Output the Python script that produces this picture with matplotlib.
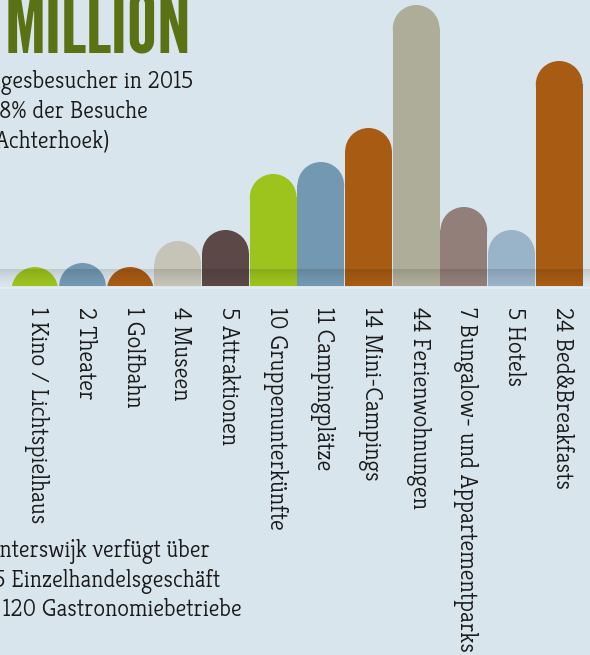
import matplotlib
matplotlib.use("Agg")
import matplotlib.pyplot as plt
import numpy as np
from matplotlib import font_manager as fm
from matplotlib.patches import Ellipse, Rectangle

kategorien = ["1 Kino / Lichtspielhaus", "2 Theater", "1 Golfbahn", "4 Museen", "5 Attraktionen",
              "10 Gruppenunterkünfte", "11 Campingplätze", "14 Mini-Campings", "44 Ferienwohnungen",
              "7 Bungalow- und Appartementparks", "5 Hotels", "24 Bed&Breakfasts"]
hoehen = [19, 23, 19, 45, 56, 112, 124, 158, 281, 79, 56, 225]
farben = ["#9dc31d", "#7399b2", "#a85b13", "#c6c4b6", "#5b4847", "#9dc31d",
          "#7399b2", "#a85b13", "#adad99", "#927f7a", "#99b3c9", "#a85b13"]

titel = "MILLION"
text_oben = ["Tagesbesucher in 2015", "28% der Besuche", "(Achterhoek)"]
text_unten = ["Winterswijk verfügt über", "275 Einzelhandelsgeschäft", "und 120 Gastronomiebetriebe"]

# --- Layout in Pixeln ---
B, H = 590, 655
BASIS_Y = 286
BALKEN_X0, BALKEN_X1 = 11, 583
HINTERGRUND = "#d9e5ed"
TITEL_FARBE = "#5a7213"
TEXT_FARBE = "#1a1a1a"


def schrift(kandidaten, rueckfall):
    namen = {f.name for f in fm.fontManager.ttflist}
    for k in kandidaten:
        if k in namen:
            return k
    return rueckfall


TITEL_SCHRIFT = schrift(["League Gothic", "Oswald", "Bebas Neue", "Antonio"], "DejaVu Sans")
TEXT_SCHRIFT = schrift(["Kreon", "Slabo 27px", "Podkova", "Rokkitt"], "DejaVu Serif")
TEXT_STIL = dict(family=TEXT_SCHRIFT, weight="medium")


def passende_groesse(fig, text, ziel_px, **kw):
    probe = fig.text(0, 0, text, fontsize=20, **kw)
    breite = probe.get_window_extent(fig.canvas.get_renderer()).width
    probe.remove()
    return 20 * ziel_px / breite


fig = plt.figure(figsize=(B / 100, H / 100), dpi=100, facecolor=HINTERGRUND)

ax_bg = fig.add_axes([0, 0, 1, 1])
ax_bg.set_xlim(0, B)
ax_bg.set_ylim(H, 0)
ax_bg.set_axis_off()
ax_bg.axhline(BASIS_Y + 1.5, color="#e4ecf1", lw=1.5, zorder=1)

# Balken-Achse: volle Breite, unten an der Basislinie
teilung = (BALKEN_X1 - BALKEN_X0) / len(hoehen)
x_links = (0 - BALKEN_X0) / teilung - 0.5
x_rechts = (B - BALKEN_X0) / teilung - 0.5
ax = fig.add_axes([0, (H - BASIS_Y) / H, 1, BASIS_Y / H])
ax.set_axis_off()
ax.patch.set_visible(False)

breite = 0.98
radius_y = breite / 2 * teilung
for i, (h, farbe) in enumerate(zip(hoehen, farben)):
    mitte = h - radius_y
    if mitte > 0:
        ax.add_patch(Rectangle((i - breite / 2, 0), breite, mitte, facecolor=farbe, lw=0))
    ax.add_patch(Ellipse((i, mitte), breite, 2 * radius_y, facecolor=farbe, lw=0))

# Schatten am Fuss der Balken
verlauf = np.zeros((32, 2, 4))
verlauf[..., 3] = np.linspace(0, 0.2, 32)[::-1, None] ** 1.3
ax.imshow(verlauf, extent=[x_links, x_rechts, 0, 17], aspect="auto", zorder=5,
          interpolation="bilinear", origin="upper")
ax.set_xlim(x_links, x_rechts)
ax.set_ylim(0, BASIS_Y)

# Titel
gr_titel = passende_groesse(fig, titel, 188, family=TITEL_SCHRIFT)
ax_bg.text(5, 53, titel, fontsize=gr_titel, family=TITEL_SCHRIFT, color=TITEL_FARBE,
           ha="left", va="baseline")

# Texte oben links und unten links
gr_text = passende_groesse(fig, "gesbesucher in 2015", 192, **TEXT_STIL)
for zeile, x, y in zip(text_oben, [193, 148, 110], [88, 118, 147]):
    ax_bg.text(x, y, zeile, fontsize=gr_text, color=TEXT_FARBE, ha="right", va="baseline",
               **TEXT_STIL)
for zeile, x, y in zip(text_unten, [210, 220, 242], [557, 587, 616]):
    ax_bg.text(x, y, zeile, fontsize=gr_text, color=TEXT_FARBE, ha="right", va="baseline",
               **TEXT_STIL)

# senkrechte Beschriftungen
gr_label = passende_groesse(fig, kategorien[9], 345, **TEXT_STIL)
for i, name in enumerate(kategorien):
    x = BALKEN_X0 + teilung * (i + 0.5) + 2
    ax_bg.text(x, 307, name, fontsize=gr_label, color=TEXT_FARBE, rotation=270,
               ha="center", va="top", **TEXT_STIL)

fig.savefig("out.png", dpi=100, facecolor=HINTERGRUND)
